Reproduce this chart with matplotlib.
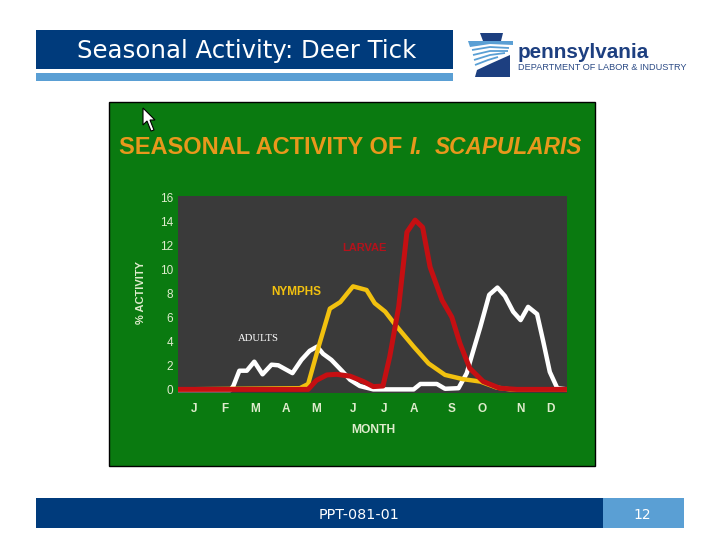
import matplotlib
matplotlib.use('Agg')
import matplotlib.pyplot as plt
from matplotlib.patches import Rectangle, Polygon

# x values are weeks of the year, y values are % activity
adults_x = [0, 7.0, 7.4, 8.2, 9.2, 10.2, 11.3, 12.5, 13.4, 15.3, 16.5, 17.6, 18.6, 19.4, 20.5, 21.9, 23.0,
            24.3, 26.1, 31.5, 32.4, 34.6, 35.7, 37.5, 38.6, 39.3, 40.4, 41.6, 42.7, 43.7, 44.8, 45.8, 46.8,
            48.0, 48.8, 49.7, 50.7, 52]
adults_y = [0, 0, 0.33, 1.6, 1.6, 2.35, 1.3, 2.1, 2.05, 1.4, 2.5, 3.25, 3.6, 3.0, 2.5, 1.6, 0.85,
            0.33, 0.05, 0.05, 0.5, 0.5, 0.1, 0.15, 1.4, 2.9, 5.2, 7.9, 8.5, 7.8, 6.5, 5.8, 6.9,
            6.3, 4.1, 1.5, 0.15, 0.05]

nymphs_x = [0, 16.3, 17.4, 18.8, 20.3, 21.7, 23.0, 23.4, 25.2, 26.3, 27.7, 29.0, 31.5, 33.5, 35.7, 38.1,
            40.4, 42.6, 44.4, 52]
nymphs_y = [0.05, 0.15, 0.5, 3.6, 6.75, 7.3, 8.3, 8.6, 8.3, 7.2, 6.5, 5.45, 3.6, 2.2, 1.25, 0.9,
            0.7, 0.2, 0.05, 0.05]

larvae_x = [0, 17.4, 18.5, 19.9, 21.2, 23.0, 24.8, 26.1, 27.4, 28.3, 29.5, 30.6, 31.7, 32.7, 33.7, 35.3,
            36.6, 37.7, 39.0, 40.8, 43.0, 45.3, 52]
larvae_y = [0.05, 0.05, 0.8, 1.25, 1.3, 1.15, 0.7, 0.28, 0.33, 2.75, 6.9, 13.1, 14.1, 13.5, 10.2, 7.45,
            6.05, 3.85, 1.8, 0.7, 0.15, 0.05, 0.05]

month_labels = ['J', 'F', 'M', 'A', 'M', 'J', 'J', 'A', 'S', 'O', 'N', 'D']
month_weeks = [2.1, 6.2, 10.3, 14.4, 18.4, 23.4, 27.5, 31.6, 36.6, 40.7, 45.8, 49.8]
y_ticks = [0, 2, 4, 6, 8, 10, 12, 14, 16]

navy = '#003b7c'
light_blue = '#5a9fd4'
green = '#0a7a10'
pale = '#dfeccd'

plt.rcParams['font.family'] = ['Liberation Sans', 'DejaVu Sans']

W, H = 720, 540
fig = plt.figure(figsize=(7.2, 5.4), dpi=100, facecolor='white')

# slide background, in pixel coordinates
bg = fig.add_axes([0, 0, 1, 1])
bg.set_xlim(0, W)
bg.set_ylim(H, 0)
bg.axis('off')


def box(x0, y0, x1, y1, color, **kw):
    bg.add_patch(Rectangle((x0, y0), x1 - x0, y1 - y0, facecolor=color, edgecolor='none', **kw))


box(36, 30, 453, 69, navy)
box(36, 73, 453, 81, light_blue)
box(36, 498, 603, 528, navy)
box(603, 498, 684, 528, light_blue)
bg.add_patch(Rectangle((109, 102), 486, 364, facecolor=green, edgecolor='black', lw=1))

bg.text(77, 51, 'Seasonal Activity: Deer Tick', color='white', fontsize=17.6, family='DejaVu Sans',
        va='center', ha='left')
bg.text(359, 515, 'PPT-081-01', color='white', fontsize=10.3, family='DejaVu Sans', va='center', ha='center')
bg.text(642, 515, '12', color='white', fontsize=10, family='DejaVu Sans', va='center', ha='center')

# logo
bg.add_patch(Polygon([(480, 33), (503, 33), (501, 41), (483, 41)], closed=True, facecolor='#1d3f80', edgecolor='none'))
bg.add_patch(Polygon([(468, 41), (513, 41), (513, 45), (490, 44), (470, 47)], closed=True, facecolor=light_blue,
                     edgecolor='none'))
bg.add_patch(Polygon([(475, 77), (477, 70), (492, 63), (510, 55), (510, 77)], closed=True, facecolor='#1d3f80',
                     edgecolor='none'))
for xs, ys in [([472, 490, 509], [50, 47, 48]), ([473, 490, 508], [55, 51, 51]), ([474, 490, 505], [60, 55, 53]),
               ([475, 488, 498], [65, 60, 57])]:
    bg.plot(xs, ys, color=light_blue, lw=1.3, solid_capstyle='butt')
bg.text(517.5, 52, 'pennsylvania', color='#1d3f80', fontsize=14.9, fontweight='bold', va='center', ha='left')
bg.text(518, 68, 'DEPARTMENT OF LABOR & INDUSTRY', color='#2b4a85', fontsize=6.6, va='center', ha='left')

# chart title, upright part then italic part
orange = '#e8981c'
bg.text(119, 147, 'SEASONAL ACTIVITY OF', color=orange, fontsize=17, fontweight='bold', va='center', ha='left')
bg.text(410, 147, 'I.', color=orange, fontsize=16.5, fontweight='bold', style='italic', va='center', ha='left')
bg.text(582, 147, 'SCAPULARIS', color=orange, fontsize=16.3, fontweight='bold', style='italic', va='center', ha='right')

# mouse pointer
bg.add_patch(Polygon([(143, 108), (143, 125), (147, 121), (151, 131), (154, 130), (150, 120), (155, 120)],
                     closed=True, facecolor='white', edgecolor='black', lw=0.8))

# chart
ax = fig.add_axes([178 / W, 1 - 393 / H, 389 / W, 197 / H], facecolor='#3a3a3a')
ax.set_xlim(0, 52)
ax.set_ylim(-0.25, 16.1)
ax.plot(adults_x, adults_y, color='white', lw=3.2, solid_joinstyle='round')
ax.plot(nymphs_x, nymphs_y, color='#f2c10f', lw=3.2, solid_joinstyle='round')
ax.plot(larvae_x, larvae_y, color='#c50f12', lw=3.6, solid_joinstyle='round')

ax.set_xticks(month_weeks)
ax.set_xticklabels(month_labels, color=pale, fontsize=8.5, fontweight='bold')
ax.set_yticks(y_ticks)
ax.set_yticklabels(y_ticks, color=pale, fontsize=8.5)
ax.tick_params(axis='both', length=0)
ax.tick_params(axis='x', pad=7)
ax.tick_params(axis='y', pad=3.5)
for s in ax.spines.values():
    s.set_visible(False)

ax.text(8.0, 4.3, 'ADULTS', color='white', fontsize=7.7, family='Liberation Serif', va='center', ha='left')
ax.text(12.5, 8.15, 'NYMPHS', color='#f2c10f', fontsize=8.5, fontweight='bold', va='center', ha='left')
ax.text(21.9, 11.75, 'LARVAE', color='#b5121b', fontsize=8, fontweight='bold', va='center', ha='left')

bg.text(141, 292, '% ACTIVITY', color=pale, fontsize=8, fontweight='bold', rotation=90, va='center', ha='center')
bg.text(373, 430, 'MONTH', color=pale, fontsize=8.7, fontweight='bold', va='center', ha='center')

fig.savefig('out.png', dpi=100)
